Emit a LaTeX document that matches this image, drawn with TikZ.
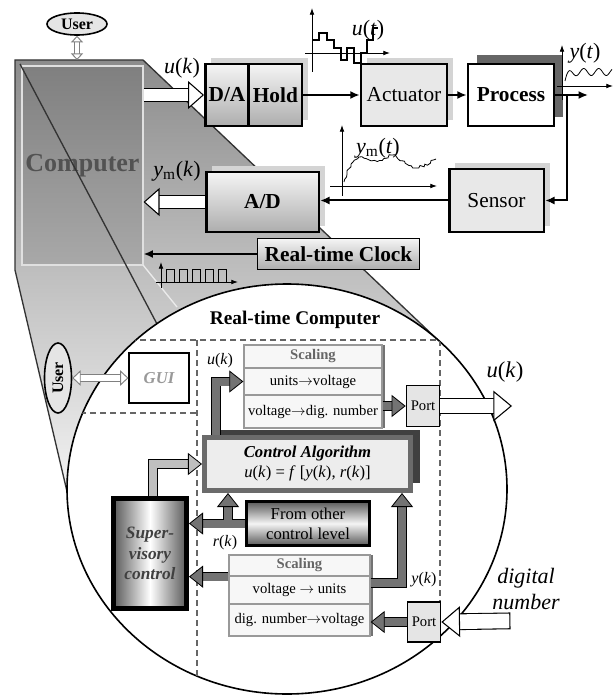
\documentclass[tikz,border=0pt]{standalone}
\usepackage{fontspec}
\setmainfont{Liberation Serif}
\usetikzlibrary{
	positioning,      %相对定位
	arrows.meta,      %箭头
	shapes.geometric, %椭圆
	shadows,          %阴影
	decorations.pathmorphing %随机曲线
}
\tikzset{
	every picture/.style={>=latex},
	blk/.style={draw, line width=2pt, inner sep=0pt, minimum height=46.5pt, font=\fontsize{16}{18}\selectfont},
	bblk/.style={blk, font=\bfseries\fontsize{16}{18}\selectfont},
	gshade/.style={top color=black!4, bottom color=black!32},
	lshadow/.style={general shadow={shadow xshift=4.5pt, shadow yshift=4.5pt, fill=black!17}},
	scl/.style={draw=black!40, line width=1pt, fill=black!3, inner sep=0pt, minimum width=#1,
		font=\fontsize{11}{12}\selectfont, general shadow={shadow xshift=2.5pt, fill=black!55}},
	port/.style={draw, line width=1pt, fill=black!10, inner sep=0pt, minimum width=25pt,
		minimum height=31pt, font=\fontsize{11}{12}\selectfont},
	lbl/.style={font=\fontsize{16.5}{18}\selectfont},
	slbl/.style={font=\fontsize{12}{13}\selectfont},
	sig/.style={line width=1.5pt, -{Latex[length=7pt,width=6pt]}},
	axis/.style={line width=0.6pt, -{Latex[length=5pt,width=3.5pt]}},
	fatarr/.style={double=#1, double distance=6pt, line width=0.6pt, line join=miter,
		-{Triangle[length=10.5pt, width=16.5pt, fill=#1, line width=0.6pt]}},
	fatarr/.default=black!55,
	holA/.style={double=white, double distance=8.5pt, line width=0.8pt, line join=miter,
		-{Triangle[length=12pt, width=21pt, fill=white, line width=0.8pt]}},
	holB/.style={double=white, double distance=11pt, line width=0.8pt, line join=miter,
		-{Triangle[length=14pt, width=23pt, fill=white, line width=0.8pt]}},
	userarr/.style={draw=black!50, double=white, double distance=#1, line width=0.7pt,
		{Triangle[length=1.4*#1, width=2.6*#1, fill=white, line width=0.7pt]}-{Triangle[length=1.4*#1, width=2.6*#1, fill=white, line width=0.7pt]}}
}

\begin{document}
\begin{tikzpicture}[x=0.75pt,y=-0.75pt]
\useasboundingbox (0,0) rectangle (616,695);
%锥形放大区域
\shade[top color=black!45, bottom color=black!4] (15,60) -- (143,60) -- (440,342) -- (287,489) -- (69,500) -- (15,270) -- cycle;
%计算机正面
\node[draw=black!12, line width=0.8pt, top color=black!50, bottom color=black!34, minimum width=90.75pt,
	minimum height=149.25pt, inner sep=0pt, text=black!68,
	font=\bfseries\fontsize{19.5}{22}\selectfont] (comp) at (82.5,165.5) {Computer};
%轮廓线
\draw[line width=1pt, black!80] (69,500) -- (15,270) -- (15,60) -- (143,60) -- (440,342);
\draw[line width=1pt, black!80] (20,64) -- (157,324);
\draw[line width=1pt, black!8] (143,265) -- (177,307);
%放大的圆
\draw[line width=1.2pt, fill=white] (287,489) ellipse [x radius=165pt, y radius=153.75pt];
%虚线分区
\begin{scope}
\clip (287,489) ellipse [x radius=165pt, y radius=153.75pt];
\draw[black!60, line width=1pt, dash pattern=on 4.5pt off 3pt]
	(100,340) -- (440,340) -- (440,700) (197,340) -- (197,700) (40,413) -- (197,413);
\end{scope}

%顶部用户
\node[ellipse, draw, line width=1.2pt, fill=black!10, minimum width=45pt, minimum height=16.5pt,
	inner sep=0pt, font=\bfseries\fontsize{12}{13}\selectfont] (user1) at (77,24) {User};
\coordinate (ctop) at (77,60);
\draw[userarr=3.5pt] (user1) -- (ctop);

%方框
\node[bblk, gshade, lshadow, minimum width=32.5pt] (DA) at (227,95) {D/A};
\node[bblk, gshade, lshadow, minimum width=40pt, right=-2pt of DA] (hold) {Hold};
\node[blk, fill=black!9, lshadow, minimum width=64.5pt] (act) at (404,95) {Actuator};
\node[bblk, fill=white, general shadow={shadow xshift=6.5pt, shadow yshift=6.5pt, fill=black!60},
	minimum width=64.5pt] (proc) at (511,95) {Process};
\node[blk, fill=black!9, lshadow, minimum width=71pt, minimum height=47pt] (sens) at (496.5,200.5) {Sensor};
\node[bblk, gshade, lshadow, minimum width=84.5pt, minimum height=45pt] (AD) at (262.5,202) {A/D};
\node[bblk, line width=1.2pt, gshade, minimum width=121.5pt, minimum height=23pt] (clock) at (338.5,254) {Real-time Clock};

%信号线
\coordinate (yout) at (588,95);
\coordinate (ybr) at (567,95);
\draw[sig] (hold) -- (act);
\draw[sig] (act) -- (proc);
\draw[sig] (proc) -- (yout);
\draw[sig] (ybr) |- (sens.east);
\draw[sig] (sens.west) -- (sens.west -| AD.east);
\draw[sig] (clock.west) -- (clock.west -| comp.east);
\draw[holA] (DA.west -| comp.east) -- (DA.west);
\draw[holA] (AD.west) -- (AD.west -| comp.east);

%标注
\node[lbl] (uk) at (182,68) {\textit{u}(\textit{k})};
\node[lbl] (ymk) at (177,171) {\textit{y}\textsubscript{m}(\textit{k})};
\node[lbl] (ut) at (368,30) {\textit{u}(\textit{t})};
\node[lbl] (yt) at (585,53) {\textit{y}(\textit{t})};
\node[lbl] (ymt) at (378,148) {\textit{y}\textsubscript{m}(\textit{t})};

%u(t)阶梯
\draw[axis] (305,53) -- (390,53);
\draw[axis] (312,72) -- (312,8);
\draw[line width=0.8pt] (312,40) -| (319,33) -| (327,40) -| (334,48) -| (341,60) -| (347,48)
	-| (354,63) -| (361,53) -| (367,40) -| (373,28) -- (378,28);
%y_m(t)噪声
\draw[axis] (330,186) -- (437,186);
\draw[axis] (342,196) -- (342,125);
\pgfmathsetseed{7}
\draw[line width=0.6pt, decorate, decoration={random steps, segment length=2pt, amplitude=1pt}]
	(344,182) .. controls (352,160) and (356,158) .. (362,157) .. controls (372,165) and (378,160) .. (388,158)
	.. controls (395,150) and (402,165) .. (415,168) .. controls (425,166) and (430,162) .. (436,159);
%y(t)
\draw[axis] (557,86) -- (613,86);
\draw[axis] (562,100) -- (562,45);
\draw[line width=0.6pt, domain=0:47, samples=80, smooth] plot ({565+\x}, {72+9*exp(-\x/3)-3.5*sin(24*\x)});
%时钟脉冲
\draw[axis] (156,282) -- (238,282);
\draw[axis] (161,288) -- (161,262);
\draw[line width=0.6pt] (161,282) \foreach \i in {1,...,5}{ -- ++(5,0) -- ++(0,-13) -- ++(8,0) -- ++(0,13)} -- ++(4,0);

%实时计算机内部
\node[font=\bfseries\fontsize{14.5}{16}\selectfont] (rtc) at (295,320) {Real-time Computer};
\node[ellipse, draw, line width=1.2pt, fill=black!10, rotate=90, minimum width=52.5pt, minimum height=20.25pt,
	inner sep=0pt, font=\bfseries\fontsize{12}{13}\selectfont] (user2) at (58,378) {User};
\node[draw, line width=0.8pt, fill=white, minimum width=45pt, minimum height=37.5pt, text=black!40,
	font=\bfseries\itshape\fontsize{12.5}{14}\selectfont] (gui) at (159,378) {GUI};
\draw[userarr=4.5pt] (user2) -- (gui);

%输出比例变换
\node[scl=103.5pt, minimum height=17.25pt, text=black!60, font=\bfseries\fontsize{11}{12}\selectfont] (sc1) at (313,356.5) {Scaling};
\node[scl=103.5pt, minimum height=20.25pt, below=-1pt of sc1] (sc2) {units$\rightarrow$voltage};
\node[scl=103.5pt, minimum height=24.75pt, below=-1pt of sc2] (sc3) {voltage$\rightarrow$dig. number};
\node[port] (port1) at (423,406) {Port};
\coordinate (uo) at (512,406);
\draw[fatarr] (port1.west -| sc3.east) -- (port1.west);
\draw[holB] (port1.east) -- (uo);
\node[font=\fontsize{17}{18}\selectfont] (uk3) at (505,372) {\textit{u}(\textit{k})};
\node[slbl] (uk2) at (220,361) {\textit{u}(\textit{k})};

%控制算法
\node[draw=black!58, line width=3.5pt, fill=black!7, general shadow={shadow xshift=7pt, shadow yshift=5.5pt, fill=black!75},
	minimum width=154.8pt, minimum height=40pt, align=center, font=\fontsize{12.5}{15}\selectfont] (ctrl) at (307.5,464)
	{\textbf{\textit{Control Algorithm}}\\\textit{u}(\textit{k}) = \textit{f} [\textit{y}(\textit{k}), \textit{r}(\textit{k})]};
\coordinate (ua) at (216,0);
\draw[fatarr] (ua |- ctrl.north) |- (sc2.west);

%监督控制与其他控制层
\node[draw, line width=3.75pt, left color=black!65, right color=black!65, middle color=white, minimum width=54.75pt,
	minimum height=82.5pt, align=center, text=black!75, font=\bfseries\itshape\fontsize{13}{15.5}\selectfont]
	(superv) at (150,553.5) {Super-\\visory\\control};
\node[draw, line width=2.25pt, top color=black!65, bottom color=black!65, middle color=black!4, minimum width=92.25pt,
	minimum height=33pt, align=center, font=\fontsize{12.5}{15}\selectfont] (other) at (308,523.5) {From other\\control level};
\coordinate (sa) at (153,0);
\coordinate (ra) at (228,0);
\draw[fatarr=black!25] (sa |- superv.north) |- (ctrl.west);
\draw[fatarr] (ra |- other.west) -- (ra |- ctrl.south);
\draw[fatarr] (other.west) -- (other.west -| superv.east);
\draw[black!55, line width=6pt] (ra |- other.west) -- ++(0,-7);
\node[slbl] (rk) at (225,543) {\textit{r}(\textit{k})};

%输入比例变换
\node[scl=105.75pt, minimum height=15.75pt, text=black!60, font=\bfseries\fontsize{11}{12}\selectfont] (sd1) at (299.5,565.5) {Scaling};
\node[scl=105.75pt, minimum height=21pt, below=-1pt of sd1] (sd2) {voltage $\rightarrow$ units};
\node[scl=105.75pt, minimum height=24pt, below=-1pt of sd2] (sd3) {dig. number$\rightarrow$voltage};
\draw[fatarr] (sd1.south west) -- (sd1.south west -| superv.east);
\coordinate (yb) at (402,583);
\draw[fatarr] (yb -| sd2.east) -- (yb) -- (yb |- ctrl.south);
\node[slbl] (yk) at (424,580) {\textit{y}(\textit{k})};
\node[port, minimum height=30pt] (port2) at (424,622) {Port};
\coordinate (dn) at (502,621);
\draw[fatarr] (port2.west) -- (port2.west -| sd3.east);
\draw[holB, line cap=rect] (dn) -- (port2.east);
\node[font=\itshape\fontsize{16.5}{20}\selectfont, align=center] (dnum) at (526,589) {digital\\number};
\end{tikzpicture}
\end{document}
